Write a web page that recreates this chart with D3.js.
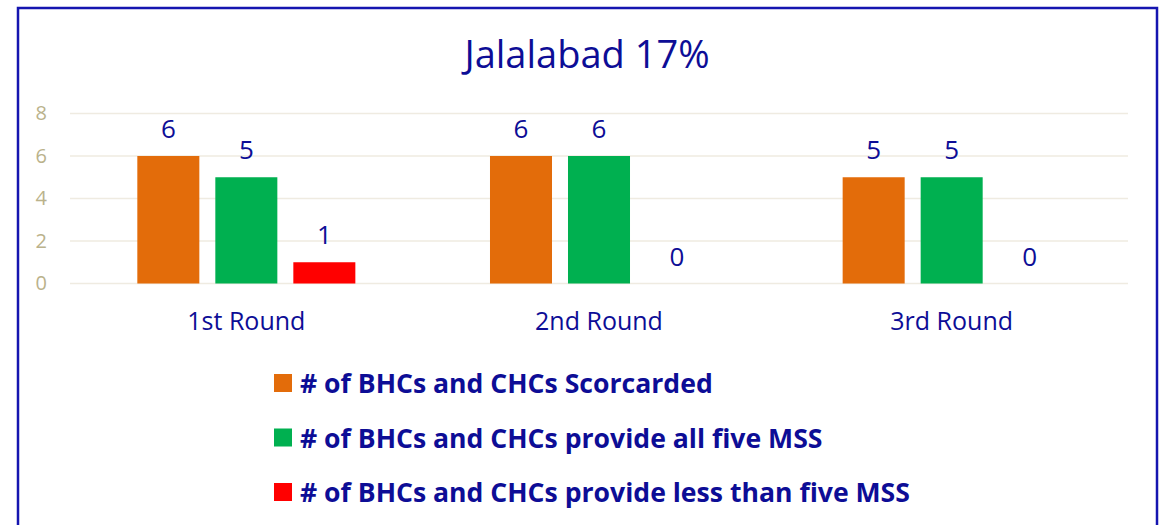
<!DOCTYPE html>
<html>
<head>
<meta charset="utf-8">
<script src="https://cdn.jsdelivr.net/npm/d3@7"></script>
<style>
  body { margin: 0; background: #fff; }
  svg { display: block; font-family: "Open Sans", Lato, sans-serif; }
</style>
</head>
<body>
<div id="chart"></div>
<script>
        var width = 1166;
        var height = 525;

        var titleText = "Jalalabad 17%";
        var rounds = ["1st Round", "2nd Round", "3rd Round"];
        var seriesNames = [
            "# of BHCs and CHCs Scorcarded",
            "# of BHCs and CHCs provide all five MSS",
            "# of BHCs and CHCs provide less than five MSS"
        ];
        var scorecarded = [6, 6, 5];
        var allFive = [5, 6, 5];
        var lessThanFive = [1, 0, 0];
        var yTicks = [0, 2, 4, 6, 8];
        var colors = ["#e36c0a", "#00b050", "#ff0000"];

        var textBlue = "#0d0d96";

        var svg = d3.select("#chart")
                    .append("svg")
                    .attr("width", width)
                    .attr("height", height);

        // frame of the chart area (bottom edge is off the picture)
        svg.append("rect")
            .attr("x", 18)
            .attr("y", 8)
            .attr("width", 1139)
            .attr("height", 560)
            .attr("fill", "none")
            .attr("stroke", "#1515b0")
            .attr("stroke-width", 2.5);

        svg.append("text")
            .attr("x", 587)
            .attr("y", 68)
            .attr("text-anchor", "middle")
            .attr("font-size", 38)
            .attr("fill", textBlue)
            .text(titleText);

        var x0 = d3.scaleBand()
            .domain(rounds)
            .range([70, 1128])
            .paddingInner(0)
            .paddingOuter(0);

        var x1 = d3.scaleBand()
            .domain(d3.range(seriesNames.length))
            .range([0, x0.bandwidth()])
            .paddingInner(0.205)
            .paddingOuter(0.863);

        var y = d3.scaleLinear()
            .domain([0, 8])
            .range([283.5, 113.5]);

        // gridlines
        svg.append("g")
            .selectAll("line")
            .data(yTicks)
            .enter()
            .append("line")
            .attr("x1", 70)
            .attr("x2", 1128)
            .attr("y1", function(d){ return y(d); })
            .attr("y2", function(d){ return y(d); })
            .attr("stroke", "#efebe1")
            .attr("stroke-width", 1.5);

        var yAxis = svg.append("g")
            .attr("transform", "translate(53,0)")
            .call(d3.axisLeft(y).tickValues(yTicks).tickSize(0).tickPadding(6));
        yAxis.select(".domain").remove();
        yAxis.selectAll("text")
            .attr("font-family", "'Open Sans', sans-serif")
            .attr("font-size", 20)
            .attr("fill", "#bab28b");

        var values = [scorecarded, allFive, lessThanFive];

        var groups = svg.append("g")
            .selectAll("g")
            .data(rounds)
            .enter()
            .append("g")
            .attr("transform", function(d){ return "translate(" + x0(d) + ",0)"; });

        var cells = groups.selectAll(".cell")
            .data(function(d, i){
                return values.map(function(v, s){ return {s: s, v: v[i]}; });
            })
            .enter()
            .append("g")
            .attr("class", "cell");

        cells.append("rect")
            .attr("x", function(d){ return x1(d.s); })
            .attr("y", function(d){ return y(d.v); })
            .attr("width", x1.bandwidth())
            .attr("height", function(d){ return y(0) - y(d.v); })
            .attr("fill", function(d){ return colors[d.s]; });

        cells.append("text")
            .attr("x", function(d){ return x1(d.s) + x1.bandwidth() / 2; })
            .attr("y", function(d){ return y(d.v) - 18; })
            .attr("text-anchor", "middle")
            .attr("font-size", 26)
            .attr("fill", textBlue)
            .text(function(d){ return d.v; });

        // category labels
        svg.append("g")
            .selectAll("text")
            .data(rounds)
            .enter()
            .append("text")
            .attr("x", function(d){ return x0(d) + x0.bandwidth() / 2; })
            .attr("y", 330)
            .attr("text-anchor", "middle")
            .attr("font-size", 25)
            .attr("fill", textBlue)
            .text(function(d){ return d; });

        // legend
        var legend = svg.append("g")
            .selectAll("g")
            .data(seriesNames)
            .enter()
            .append("g")
            .attr("transform", function(d, i){ return "translate(274," + (374 + i * 54.5) + ")"; });

        legend.append("rect")
            .attr("width", 18)
            .attr("height", 18)
            .attr("fill", function(d, i){ return colors[i]; });

        legend.append("text")
            .attr("x", 26)
            .attr("y", 19)
            .attr("font-size", 26.6)
            .attr("font-weight", "bold")
            .attr("fill", textBlue)
            .text(function(d){ return d; });
</script>
</body>
</html>
